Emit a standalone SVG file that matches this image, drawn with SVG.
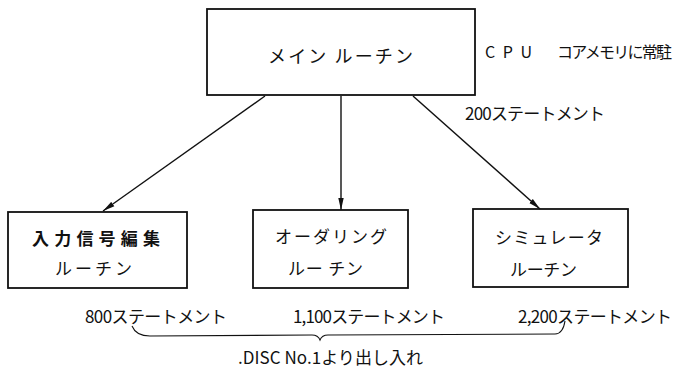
<svg xmlns="http://www.w3.org/2000/svg" width="673" height="369" viewBox="0 0 673 369">
<style>
.box{fill:#fff;stroke:#111;stroke-width:1.8}
.t{font-family:"Noto Sans CJK JP","Noto Sans",sans-serif;font-size:17px;fill:#111}
.s{font-size:16px}
.m{font-size:18px}
.b{font-weight:bold}
.ln{fill:none;stroke:#111;stroke-width:1.4}
.br{fill:none;stroke:#111;stroke-width:1.1}
</style>
<defs>
<marker id="ah" viewBox="0 0 12 6" refX="12" refY="3" markerWidth="12" markerHeight="6" markerUnits="userSpaceOnUse" orient="auto">
<path d="M0,0.3 L12,3 L0,5.7 Z" fill="#111"/>
</marker>
</defs>
<g id="main">
<rect class="box" x="207" y="9" width="268" height="86"/>
<text class="t m" x="268" y="63" textLength="145" lengthAdjust="spacing">メイン ルーチン</text>
</g>
<g id="main-note">
<text class="t s" x="485" y="58" textLength="47" lengthAdjust="spacing">CPU</text>
<text class="t s" x="557" y="58" textLength="115" lengthAdjust="spacing">コアメモリに常駐</text>
<text class="t" x="465" y="120" textLength="140" lengthAdjust="spacing">200ステートメント</text>
</g>
<g id="input">
<rect class="box" x="8" y="212" width="179" height="76"/>
<text class="t b" x="32" y="245" textLength="128" lengthAdjust="spacing">入力信号編集</text>
<text class="t" x="55" y="275" textLength="77" lengthAdjust="spacing">ルーチン</text>
</g>
<g id="ordering">
<rect class="box" x="253" y="210" width="155" height="78"/>
<text class="t" x="275" y="243" textLength="112" lengthAdjust="spacing">オーダリング</text>
<text class="t" x="288" y="275" textLength="75" lengthAdjust="spacing">ルー チン</text>
</g>
<g id="simulator">
<rect class="box" x="473" y="209" width="155" height="78"/>
<text class="t" x="495" y="244" textLength="108" lengthAdjust="spacing">シミュレータ</text>
<text class="t" x="510" y="276" textLength="67" lengthAdjust="spacing">ルーチン</text>
</g>
<g id="connectors">
<line class="ln" x1="265" y1="96" x2="103" y2="211" marker-end="url(#ah)"/>
<line class="ln" x1="341" y1="96" x2="341" y2="210" marker-end="url(#ah)"/>
<line class="ln" x1="413" y1="96" x2="540" y2="209" marker-end="url(#ah)"/>
</g>
<g id="counts">
<text class="t" x="85" y="323" textLength="142" lengthAdjust="spacing">800ステートメント</text>
<text class="t" x="293" y="323" textLength="152" lengthAdjust="spacing">1,100ステートメント</text>
<text class="t" x="518" y="323" textLength="154" lengthAdjust="spacing">2,200ステートメント</text>
<path class="br" d="M132,326 Q136,336 150,336 L312,335 Q318,335 320,340 Q322,335 328,335 L555,334 Q563,334 565,321"/>
<text class="t" x="238" y="364" textLength="185" lengthAdjust="spacing">.DISC No.1より出し入れ</text>
</g>
</svg>
